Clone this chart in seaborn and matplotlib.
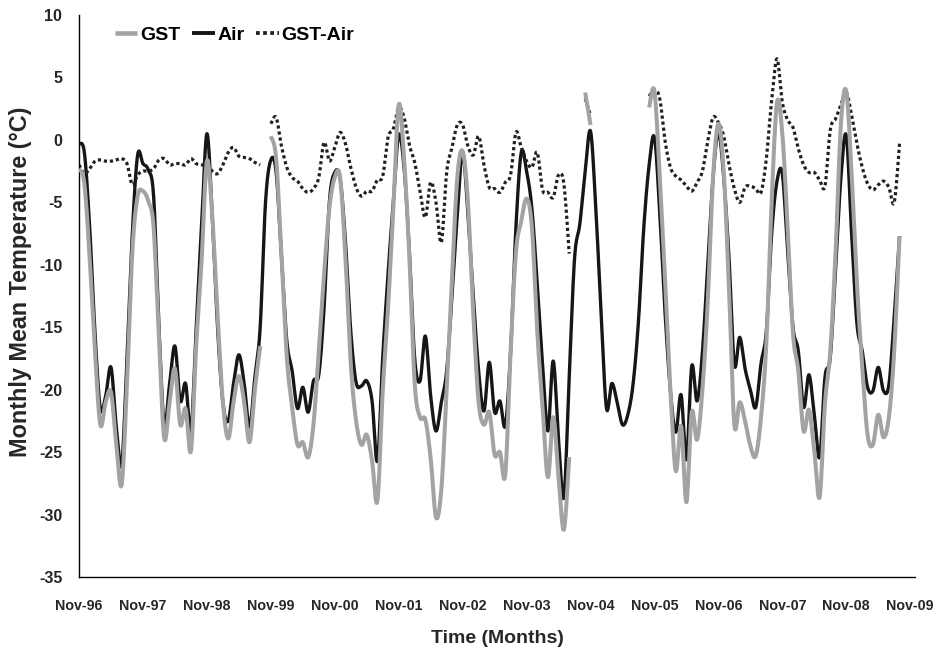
import numpy as np
import pandas as pd
import matplotlib
matplotlib.use("Agg")
import matplotlib.pyplot as plt
from matplotlib.lines import Line2D
import seaborn as sns

nan = np.nan

# Monthly means, Nov-96 .. Sep-09 (155 months)
air = [
    -0.3, -1.0, -7.0, -15.5, -21.5, -20.5, -18.2, -23.0, -26.0, -17.5, -7.5, -1.2,
    -1.9, -2.4, -4.5, -15.0, -22.8, -19.5, -16.5, -20.9, -19.5, -23.3, -15.0, -7.0,
    0.5, -6.0, -15.0, -21.0, -22.5, -19.5, -17.2, -19.5, -23.0, -19.0, -15.0, -5.0,
    -1.6, -2.6, -9.4, -16.1, -18.5, -21.5, -19.8, -21.8, -19.3, -18.8, -13.4, -4.9,
    -2.6, -3.1, -8.1, -15.3, -19.4, -19.7, -19.3, -20.9, -25.7, -17.4, -10.7, -4.9,
    0.4, -2.2, -8.9, -17.5, -19.3, -15.7, -20.5, -23.3, -21.0, -18.5, -12.5, -6.0,
    -1.0, -6.0, -12.5, -18.5, -21.7, -17.8, -21.8, -20.9, -22.9, -17.0, -7.0, -1.0,
    -2.5, -5.5, -11.5, -18.0, -23.3, -17.7, -24.0, -28.6, -19.0, -9.5, -6.7, -2.5,
    0.7, -5.5, -14.0, -21.5, -19.5, -21.0, -22.8, -22.0, -19.5, -14.5, -7.0, -2.0,
    0.2, -5.9, -13.9, -20.1, -23.4, -20.4, -25.6, -18.1, -20.9, -17.0, -10.0, -3.0,
    0.6, -3.0, -9.5, -18.0, -15.8, -18.3, -20.0, -21.4, -17.9, -15.3, -7.5, -3.3,
    -2.7, -8.9, -15.0, -16.9, -21.4, -18.8, -22.0, -25.4, -19.0, -17.4, -10.2, -3.0,
    0.35, -7.5, -14.7, -16.9, -19.8, -20.1, -18.2, -20.1, -19.6, -14.2, -7.7,
]

gst = [
    -2.3, -3.5, -9.5, -17.0, -22.8, -21.0, -20.2, -24.4, -27.6, -19.5, -9.0, -4.5,
    -4.1, -4.9, -7.0, -16.0, -23.9, -21.0, -18.3, -22.8, -21.5, -24.9, -16.4, -9.7,
    -1.7, -6.0, -14.0, -21.0, -23.9, -21.0, -18.9, -21.0, -24.2, -20.0, -16.5, nan,
    0.3, -1.5, -9.4, -17.4, -21.4, -24.4, -24.2, -25.4, -22.8, -16.9, -10.7, -5.4,
    -3.0, -3.0, -9.4, -17.9, -22.5, -24.4, -23.6, -25.7, -28.9, -20.1, -13.4, -5.4,
    2.8, -1.4, -9.4, -19.5, -22.2, -22.4, -25.5, -30.2, -28.0, -20.0, -11.0, -3.0,
    -0.9, -5.0, -14.0, -21.0, -22.8, -21.8, -25.2, -25.0, -26.8, -17.0, -9.0, -6.5,
    -4.7, -7.0, -15.3, -21.4, -27.0, -22.2, -27.0, -31.2, -25.4, nan, nan, 3.8,
    1.2, nan, nan, nan, nan, nan, nan, nan, nan, nan, nan, 2.6,
    3.9, -3.0, -11.3, -20.1, -26.5, -22.9, -29.0, -21.8, -24.0, -20.0, -13.0, -3.0,
    1.3, -2.5, -12.0, -22.8, -21.0, -22.5, -24.5, -25.3, -22.2, -16.3, -4.9, 3.0,
    0.5, -7.0, -15.5, -18.5, -23.3, -21.6, -24.9, -28.6, -21.1, -16.9, -8.9, 1.3,
    3.9, -2.7, -11.5, -18.2, -23.6, -24.4, -22.0, -23.8, -22.2, -16.9, -7.7,
]

gst_air = [
    -2.0, -2.7, -2.3, -1.7, -1.6, -1.7, -1.7, -1.6, -1.5, -1.9, -3.6, -2.8,
    -2.5, -2.5, -2.3, -1.6, -1.5, -2.0, -1.9, -1.9, -2.0, -1.5, -1.9, -2.0,
    -2.0, -2.5, -2.7, -2.0, -1.0, -0.6, -1.3, -1.4, -1.5, -1.8, -2.0, nan,
    1.3, 1.8, -0.5, -2.2, -3.0, -3.3, -3.9, -4.2, -3.9, -3.0, -0.2, -1.7,
    -0.6, 0.6, -0.3, -2.2, -3.8, -4.5, -4.1, -4.1, -3.2, -2.9, 0.2, 0.9,
    2.6, 1.8, -0.4, -1.8, -4.1, -6.2, -3.4, -5.0, -8.2, -2.6, -0.6, 1.2,
    1.2, -0.5, -1.2, 0.3, -2.0, -3.8, -3.9, -4.2, -3.4, -2.8, 0.6, -0.6,
    -1.7, -2.2, -1.0, -4.0, -4.2, -4.6, -2.8, -3.5, -9.1, nan, nan, 3.3,
    2.0, nan, nan, nan, nan, nan, nan, nan, nan, nan, nan, 3.5,
    4.0, 3.3, -0.1, -2.2, -2.9, -3.2, -3.7, -4.1, -3.4, -2.5, -0.1, 1.8,
    1.4, 0.3, -2.0, -3.9, -5.0, -3.8, -3.7, -3.9, -4.2, -1.5, 3.2, 6.5,
    3.0, 1.6, 1.0, -0.7, -2.0, -2.6, -2.6, -3.2, -3.7, 0.8, 1.7, 2.8,
    3.8, 2.0, -0.3, -2.2, -3.5, -4.0, -3.6, -3.3, -3.8, -5.0, -0.3,
]

tick_labels = ["Nov-96", "Nov-97", "Nov-98", "Nov-99", "Nov-00", "Nov-01", "Nov-02",
               "Nov-03", "Nov-04", "Nov-05", "Nov-06", "Nov-07", "Nov-08", "Nov-09"]
y_ticks = list(range(-35, 11, 5))

series_names = ["GST", "Air", "GST-Air"]

df = pd.DataFrame({"month": np.arange(len(air)), "GST": gst, "Air": air, "GST-Air": gst_air})

# ---------------------------------------------------------------- style
sns.set_theme(style="white")
plt.rcParams["font.family"] = ["Liberation Sans", "DejaVu Sans"]
plt.rcParams["axes.edgecolor"] = "black"
plt.rcParams["text.color"] = "black"


def smoothed(xs, ys, steps=14):
    """Cubic Bezier path through the points (spreadsheet-style smoothed line)."""
    xs = np.asarray(xs, float)
    ys = np.asarray(ys, float)
    if len(xs) < 2:
        return xs, ys
    px = np.concatenate([[xs[0]], xs, [xs[-1]]])
    py = np.concatenate([[ys[0]], ys, [ys[-1]]])
    t = np.linspace(0.0, 1.0, steps, endpoint=False)[:, None]
    out_x, out_y = [], []
    for k in range(len(xs) - 1):
        p0, p1, p2, p3 = (np.array([px[k + j], py[k + j]]) for j in range(4))
        c1 = p1 + (p2 - p0) / 6.0
        c2 = p2 - (p3 - p1) / 6.0
        b = ((1 - t) ** 3) * p1 + 3 * ((1 - t) ** 2) * t * c1 + 3 * (1 - t) * t ** 2 * c2 + t ** 3 * p2
        out_x.append(b[:, 0])
        out_y.append(b[:, 1])
    out_x.append([xs[-1]])
    out_y.append([ys[-1]])
    return np.concatenate(out_x), np.concatenate(out_y)


def runs(frame, col):
    """Contiguous stretches of months that have a value."""
    sub = frame[["month", col]].dropna()
    if sub.empty:
        return []
    breaks = np.where(np.diff(sub["month"].to_numpy()) > 1)[0] + 1
    return [part for part in np.split(sub, breaks) if len(part) > 0]


styles = {
    "Air": dict(color="#161616", linewidth=2.4, linestyle="-", zorder=2),
    "GST-Air": dict(color="#202020", linewidth=2.3, linestyle=(0, (1.0, 0.9)), zorder=2.5),
    "GST": dict(color="#a3a3a3", linewidth=2.9, linestyle="-", zorder=3),
}

fig = plt.figure(figsize=(9.33, 6.47), dpi=100)
ax = fig.add_axes([0.0847, 0.108, 0.896, 0.8688])

for name in ["Air", "GST-Air", "GST"]:
    st = styles[name]
    for part in runs(df, name):
        sx, sy = smoothed(part["month"], part[name])
        sns.lineplot(x=sx, y=sy, ax=ax, estimator=None, sort=False,
                     color=st["color"], linewidth=st["linewidth"],
                     linestyle=st["linestyle"], zorder=st["zorder"])
        ln = ax.lines[-1]
        ln.set_dash_capstyle("butt")
        ln.set_solid_capstyle("butt")

ax.set_xlim(0, 156.9)
ax.set_ylim(-35, 10)
ax.set_xticks(np.arange(0, 12 * len(tick_labels), 12))
ax.set_xticklabels(tick_labels, fontsize=10.3, fontweight="bold")
ax.set_yticks(y_ticks)
ax.set_yticklabels([str(v) for v in y_ticks], fontsize=11.5, fontweight="bold")
ax.tick_params(axis="x", direction="out", length=6, width=1.0, color="black", pad=10)
ax.tick_params(axis="y", direction="out", length=6, width=1.0, color="black", pad=6)
for side in ["top", "right"]:
    ax.spines[side].set_visible(False)
for side in ["left", "bottom"]:
    ax.spines[side].set_linewidth(1.0)
    ax.spines[side].set_color("black")

ax.set_xlabel("Time (Months)", fontsize=14, fontweight="bold", labelpad=12)
ax.set_ylabel("Monthly Mean Temperature (\u00b0C)", fontsize=16.8, fontweight="bold")
ax.yaxis.set_label_coords(-0.056, 0.525)

handles = [Line2D([0], [0], color=styles[n]["color"], linewidth=styles[n]["linewidth"] + 0.4,
                  linestyle=styles[n]["linestyle"], dash_capstyle="butt", solid_capstyle="butt")
           for n in series_names]
leg = ax.legend(handles, series_names, loc="center left", bbox_to_anchor=(0.043, 0.964),
                ncol=3, frameon=False, handlelength=1.15, handletextpad=0.15, columnspacing=0.6,
                borderaxespad=0, borderpad=0, prop={"weight": "bold", "size": 14})

fig.savefig("out.png", dpi=100, facecolor="white")
